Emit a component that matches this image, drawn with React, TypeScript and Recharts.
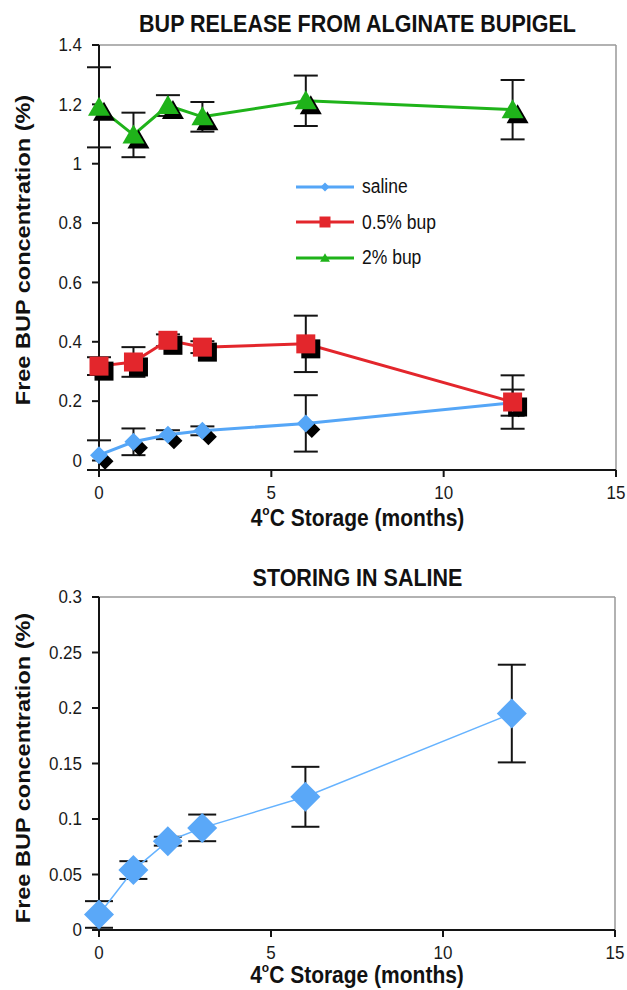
import React from "react";
import {
  ComposedChart,
  Line,
  XAxis,
  YAxis,
  ErrorBar,
  ReferenceLine,
} from "recharts";

// storage time in months
const months = [0, 1, 2, 3, 6, 12];

// top panel: release from alginate bupigel
const salineTop = [0.018, 0.063, 0.087, 0.1, 0.125, 0.195];
const salineTopErr = [0.05, 0.045, 0.015, 0.015, 0.095, 0.044];
const bup05 = [0.318, 0.332, 0.405, 0.382, 0.393, 0.197];
const bup05Err = [0.03, 0.05, 0.02, 0.02, 0.095, 0.09];
const bup2 = [1.19, 1.097, 1.196, 1.158, 1.212, 1.182];
const bup2Err = [0.135, 0.075, 0.035, 0.05, 0.085, 0.1];

// bottom panel: storing in saline
const storeSaline = [0.014, 0.054, 0.08, 0.092, 0.12, 0.195];
const storeSalineErr = [0.012, 0.008, 0.004, 0.012, 0.027, 0.044];

const topYTicks = [0, 0.2, 0.4, 0.6, 0.8, 1, 1.2, 1.4];
const bottomYTicks = [0, 0.05, 0.1, 0.15, 0.2, 0.25, 0.3];
const xTicks = [0, 5, 10, 15];

const legendItems = [
  { name: "saline", color: "#55a6f7", shape: "diamond" },
  { name: "0.5% bup", color: "#e3262c", shape: "square" },
  { name: "2% bup", color: "#1fb31a", shape: "triangle" },
];

const topData = months.map((m, i) => ({
  month: m,
  saline: salineTop[i],
  salineErr: salineTopErr[i],
  bup05: bup05[i],
  bup05Err: bup05Err[i],
  bup2: bup2[i],
  bup2Err: bup2Err[i],
}));

const bottomData = months.map((m, i) => ({
  month: m,
  saline: storeSaline[i],
  salineErr: storeSalineErr[i],
}));

const FONT = "'Liberation Sans', Arial, Helvetica, sans-serif";
const AXIS = "#141414";
const STRETCH = 1.12; // the reference text is a little taller than wide

function markerPath(shape: string, cx: number, cy: number, s: number) {
  const r = s / 2;
  if (shape === "diamond") {
    return `M${cx},${cy - r}L${cx + r},${cy}L${cx},${cy + r}L${cx - r},${cy}Z`;
  }
  if (shape === "square") {
    return `M${cx - r},${cy - r}h${s}v${s}h${-s}Z`;
  }
  // triangle
  return `M${cx},${cy - r * 1.05}L${cx + r * 1.1},${cy + r * 0.85}L${cx - r * 1.1},${cy + r * 0.85}Z`;
}

function makeDot(shape: string, color: string, size: number, off = 0) {
  return (p: any) => {
    if (p.cx == null || p.cy == null) return <g key={p.index} />;
    return (
      <path
        key={p.index}
        d={markerPath(shape, p.cx + off, p.cy + off, size)}
        fill={color}
        stroke="none"
      />
    );
  };
}

function YTick({ x, y, payload }: any) {
  return (
    <text
      transform={`translate(${x},${y}) scale(1,${STRETCH})`}
      textAnchor="end"
      dominantBaseline="central"
      fontFamily={FONT}
      fontSize={17}
      fill="#1a1a1a"
    >
      {payload.value}
    </text>
  );
}

function XTick({ x, y, payload }: any) {
  return (
    <text
      transform={`translate(${x},${y + 7.5}) scale(1,${STRETCH})`}
      textAnchor="middle"
      dominantBaseline="central"
      fontFamily={FONT}
      fontSize={17}
      fill="#1a1a1a"
    >
      {payload.value}
    </text>
  );
}

function XLabel({ viewBox, dy }: any) {
  const x = viewBox.x + viewBox.width / 2;
  const y = viewBox.y + dy;
  return (
    <text
      transform={`translate(${x},${y}) scale(1,${STRETCH})`}
      textAnchor="middle"
      dominantBaseline="central"
      fontFamily={FONT}
      fontWeight="bold"
      fontSize={21}
      fill="#111"
    >
      <tspan>4</tspan>
      <tspan fontSize={12} dy={-7}>o</tspan>
      <tspan dy={7}>C Storage (months)</tspan>
    </text>
  );
}

function YLabel({ cy }: any) {
  return (
    <text
      transform={`translate(23,${cy}) rotate(-90) scale(${STRETCH},1)`}
      textAnchor="middle"
      dominantBaseline="central"
      fontFamily={FONT}
      fontWeight="bold"
      fontSize={21}
      fill="#111"
    >
      Free BUP concentration (%)
    </text>
  );
}

function LegendBox() {
  return (
    <div
      style={{
        position: "absolute",
        left: 296,
        top: 169,
        fontFamily: FONT,
        fontSize: 17.5,
        color: "#111",
      }}
    >
      {legendItems.map((it) => (
        <div
          key={it.name}
          style={{ display: "flex", alignItems: "center", height: 35.5 }}
        >
          <svg width={66} height={16}>
            <line x1={0} y1={8} x2={58} y2={8} stroke={it.color} strokeWidth={3} />
            <path d={markerPath(it.shape, 29, 8, it.shape === "square" ? 11 : 9)} fill={it.color} />
          </svg>
          <span style={{ display: "inline-block", transform: `scaleY(${STRETCH})` }}>
            {it.name}
          </span>
        </div>
      ))}
    </div>
  );
}

const titleStyle: React.CSSProperties = {
  position: "absolute",
  left: 99,
  width: 517,
  height: 30,
  lineHeight: "30px",
  textAlign: "center",
  fontFamily: FONT,
  fontWeight: "bold",
  fontSize: 21.5,
  color: "#111",
  transform: `scaleY(${STRETCH})`,
  whiteSpace: "nowrap",
};

const axisProps = {
  type: "number" as const,
  tickSize: 7,
  axisLine: { stroke: AXIS, strokeWidth: 2 },
  tickLine: { stroke: AXIS, strokeWidth: 2 },
};

export default function App() {
  return (
    <div
      style={{
        position: "absolute",
        left: 0,
        top: 0,
        width: 627,
        height: 990,
        background: "#fff",
      }}
    >
      <div style={{ ...titleStyle, top: 9 }}>BUP RELEASE FROM ALGINATE BUPIGEL</div>
      <div style={{ position: "absolute", left: 0, top: 0 }}>
        <ComposedChart
          width={627}
          height={545}
          data={topData}
          margin={{ top: 45, right: 11, bottom: 0, left: 0 }}
        >
          <XAxis
            {...axisProps}
            dataKey="month"
            domain={[0, 15]}
            ticks={xTicks}
            height={75}
            tick={<XTick />}
            tickMargin={8}
            label={<XLabel dy={48} />}
          />
          <YAxis
            {...axisProps}
            domain={[0, 1.4]}
            ticks={topYTicks}
            width={99}
            tick={<YTick />}
            tickMargin={10}
            label={<YLabel cy={250} />}
          />
          <ReferenceLine y={1.4} stroke="#999" strokeWidth={1.5} />
          <ReferenceLine x={15} stroke="#999" strokeWidth={1.5} />

          {/* black drop-shadow markers */}
          <Line dataKey="saline" stroke="none" dot={makeDot("diamond", "#000", 17, 6)} activeDot={false} isAnimationActive={false} legendType="none" />
          <Line dataKey="bup05" stroke="none" dot={makeDot("square", "#000", 19, 5)} activeDot={false} isAnimationActive={false} legendType="none" />
          <Line dataKey="bup2" stroke="none" dot={makeDot("triangle", "#000", 20, 5)} activeDot={false} isAnimationActive={false} legendType="none" />

          <Line
            dataKey="saline"
            stroke="#55a6f7"
            strokeWidth={3}
            dot={makeDot("diamond", "#55a6f7", 18)}
            activeDot={false}
            isAnimationActive={false}
          >
            <ErrorBar dataKey="salineErr" width={12} stroke={AXIS} strokeWidth={2} direction="y" />
          </Line>
          <Line
            dataKey="bup05"
            stroke="#e3262c"
            strokeWidth={3}
            dot={makeDot("square", "#e3262c", 19)}
            activeDot={false}
            isAnimationActive={false}
          >
            <ErrorBar dataKey="bup05Err" width={12} stroke={AXIS} strokeWidth={2} direction="y" />
          </Line>
          <Line
            dataKey="bup2"
            stroke="#1fb31a"
            strokeWidth={3}
            dot={makeDot("triangle", "#1fb31a", 20)}
            activeDot={false}
            isAnimationActive={false}
          >
            <ErrorBar dataKey="bup2Err" width={12} stroke={AXIS} strokeWidth={2} direction="y" />
          </Line>
        </ComposedChart>
      </div>
      <LegendBox />

      <div style={{ ...titleStyle, top: 563 }}>STORING IN SALINE</div>
      <div style={{ position: "absolute", left: 0, top: 550 }}>
        <ComposedChart
          width={627}
          height={440}
          data={bottomData}
          margin={{ top: 47, right: 12, bottom: 0, left: 0 }}
        >
          <XAxis
            {...axisProps}
            dataKey="month"
            domain={[0, 15]}
            ticks={xTicks}
            height={60}
            tick={<XTick />}
            tickMargin={8}
            label={<XLabel dy={45} />}
          />
          <YAxis
            {...axisProps}
            domain={[0, 0.3]}
            ticks={bottomYTicks}
            width={99}
            tick={<YTick />}
            tickMargin={10}
            label={<YLabel cy={218} />}
          />
          <ReferenceLine y={0.3} stroke="#999" strokeWidth={1.5} />
          <ReferenceLine x={15} stroke="#999" strokeWidth={1.5} />
          <Line
            dataKey="saline"
            stroke="#66b3ff"
            strokeWidth={1.5}
            dot={makeDot("diamond", "#5aa8f8", 30)}
            activeDot={false}
            isAnimationActive={false}
          >
            <ErrorBar dataKey="salineErr" width={14} stroke={AXIS} strokeWidth={2} direction="y" />
          </Line>
        </ComposedChart>
      </div>
    </div>
  );
}
